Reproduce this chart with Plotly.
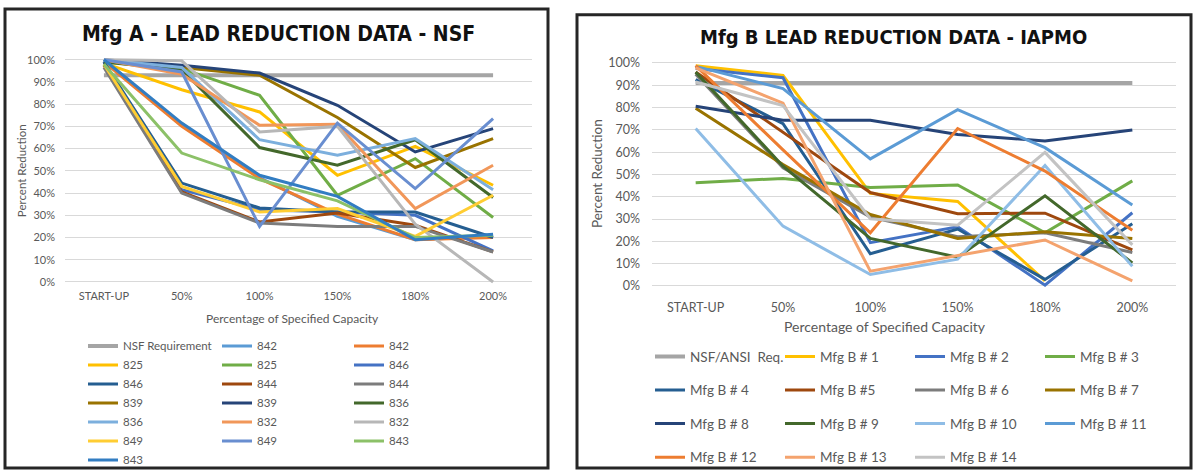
import plotly.graph_objects as go

W, H = 1194, 475

CATS = ["START-UP", "50%", "100%", "150%", "180%", "200%"]

# ---- Mfg A (NSF) ----
A_NAMES = ["NSF Requirement", "842", "842", "825", "825", "846", "846", "844", "844",
           "839", "839", "836", "836", "832", "832", "849", "849", "843", "843"]
A_COLORS = ["#A5A5A5", "#5B9BD5", "#ED7D31", "#FFC000", "#70AD47", "#4472C4", "#255E91",
            "#9E480E", "#7C7C7C", "#997300", "#264478", "#43682B", "#7CAFDD", "#F1975A",
            "#B7B7B7", "#FFCD33", "#698ED0", "#8CC168", "#327DC2"]
A_NSF = [93, 93, 93, 93, 93, 93]
A_842a = [100, 70.5, 47, 29.5, 19, 20.5]
A_842b = [99, 70, 46.5, 30.5, 19, 20]
A_825a = [98.5, 86.5, 76.5, 48, 61, 43.5]
A_825b = [99, 96, 84, 39, 55.5, 29]
A_846a = [99, 41.5, 32.5, 31.5, 30, 14]
A_846b = [99, 44.5, 33.3, 31.5, 31.5, 20]
A_844a = [97.5, 40.5, 27, 31, 25.5, 13.5]
A_844b = [96.5, 40, 26.5, 25, 25, 13.5]
A_839a = [99.5, 96.5, 93, 74, 51.5, 64.5]
A_839b = [100, 97.5, 94, 79.5, 58.5, 69]
A_836a = [99, 95.5, 60.5, 52.5, 64, 38]
A_836b = [100, 96.5, 64, 57, 64.5, 41.5]
A_832a = [100, 93.5, 70.5, 71, 33, 52.5]
A_832b = [100, 99.5, 67.5, 70, 26, 0]
A_849a = [98, 43, 31.5, 33, 20.5, 39]
A_849b = [100, 94.5, 25, 71.5, 42, 73.5]
A_843a = [98, 58, 46, 36.5, 20, 21]
A_843b = [100, 71.5, 48, 38.5, 19, 21.5]
A_VALUES = [A_NSF, A_842a, A_842b, A_825a, A_825b, A_846a, A_846b, A_844a, A_844b,
            A_839a, A_839b, A_836a, A_836b, A_832a, A_832b, A_849a, A_849b, A_843a, A_843b]

# ---- Mfg B (IAPMO) ----
B_NAMES = ["NSF/ANSI  Req.", "Mfg B # 1", "Mfg B # 2", "Mfg B # 3", "Mfg B # 4", "Mfg B #5",
           "Mfg B # 6", "Mfg B # 7", "Mfg B # 8", "Mfg B # 9", "Mfg B # 10", "Mfg B # 11",
           "Mfg B # 12", "Mfg B # 13", "Mfg B # 14"]
B_COLORS = ["#A5A5A5", "#FFC000", "#4472C4", "#70AD47", "#255E91", "#9E480E", "#7C7C7C",
            "#997300", "#264478", "#43682B", "#8FBDE6", "#5B9BD5", "#ED7D31", "#F4A36E",
            "#C3C3C3"]
B_NSF = [91, 91, 91, 91, 91, 91]
B_1 = [98.8, 94.4, 41.5, 37.9, 2.2, None]
B_2 = [97.5, 93.4, 19.4, 26.5, 0.3, 32.8]
B_3 = [46.3, 48.2, 44.1, 45.3, 23.8, 47.1]
B_4 = [92.6, 72.8, 14.4, 25.5, 2.9, 27.9]
B_5 = [96, 69, 41.9, 32.4, 32.6, 16.2]
B_6 = [95, 53, 30.9, 22, 23.8, 15]
B_7 = [79.7, 54.4, 32, 21.3, 24.3, 21.3]
B_8 = [80.6, 74.3, 74.3, 67.9, 65, 69.9]
B_9 = [95.9, 53.7, 21.3, 12.9, 40.4, 10.3]
B_10 = [70.6, 26.8, 5.1, 12, 54, 8.8]
B_11 = [98.5, 88.5, 57, 79.1, 62, 36.3]
B_12 = [98.8, 61, 23.8, 70.6, 51.5, 25]
B_13 = [97.8, 82, 6.6, 13.5, 20.6, 2.2]
B_14 = [91.5, 80.9, 30.1, 27.2, 59.9, 18.4]
B_VALUES = [B_NSF, B_1, B_2, B_3, B_4, B_5, B_6, B_7, B_8, B_9, B_10, B_11, B_12, B_13, B_14]

TICKVALS = [0, 10, 20, 30, 40, 50, 60, 70, 80, 90, 100]
TICKTEXT = ["0%", "10%", "20%", "30%", "40%", "50%", "60%", "70%", "80%", "90%", "100%"]

FONT = "Lato, 'Open Sans', sans-serif"
TXT = "#595959"
GRID = "#D9D9D9"


def px(x):
    return x / W


def py(y):
    return 1 - y / H


fig = go.Figure()

A_LEG = ["legend", "legend2", "legend3"]
for i, (name, col, vals) in enumerate(zip(A_NAMES, A_COLORS, A_VALUES)):
    fig.add_trace(go.Scatter(
        x=CATS, y=vals, name=name, mode="lines",
        line=dict(color=col, width=4 if i == 0 else 3),
        xaxis="x", yaxis="y", legend=A_LEG[i % 3], connectgaps=False,
        hoverinfo="name+y"))

B_LEG = ["legend4", "legend5", "legend6", "legend7"]
for i, (name, col, vals) in enumerate(zip(B_NAMES, B_COLORS, B_VALUES)):
    fig.add_trace(go.Scatter(
        x=CATS, y=vals, name=name, mode="lines",
        line=dict(color=col, width=4 if i == 0 else 3),
        xaxis="x2", yaxis="y2", legend=B_LEG[i % 4], legendgroup="b%d" % i,
        connectgaps=False, hoverinfo="name+y"))

axis_common = dict(showline=False, zeroline=False, ticks="")

fig.update_layout(
    width=W, height=H,
    margin=dict(l=0, r=0, t=0, b=0),
    paper_bgcolor="white", plot_bgcolor="rgba(0,0,0,0)",
    font=dict(family=FONT, color=TXT),
    xaxis=dict(domain=[px(65), px(532)], anchor="y", type="category",
               range=[-0.5, 5.5], showgrid=False, tickfont=dict(size=11, color=TXT),
               ticklabelstandoff=3, **axis_common),
    yaxis=dict(domain=[py(286.1), py(53.3)], anchor="x", range=[-1.5, 101.5],
               tickvals=TICKVALS, ticktext=TICKTEXT, showgrid=True, gridcolor=GRID,
               gridwidth=1, tickfont=dict(size=11, color=TXT), ticklabelstandoff=9,
               **axis_common),
    xaxis2=dict(domain=[px(652), px(1176)], anchor="y2", type="category",
                range=[-0.5, 5.5], showgrid=False, tickfont=dict(size=12.5, color=TXT),
                ticklabelstandoff=9, **axis_common),
    yaxis2=dict(domain=[py(290.1), py(56.6)], anchor="x2", range=[-1.5, 101.5],
                tickvals=TICKVALS, ticktext=TICKTEXT, showgrid=True, gridcolor=GRID,
                gridwidth=1, tickfont=dict(size=12.5, color=TXT), ticklabelstandoff=11,
                **axis_common),
    showlegend=True,
)

a_cols_x = [83, 217, 349]
for name, xx in zip(A_LEG, a_cols_x):
    fig.update_layout({name: dict(
        x=px(xx), y=py(333), xanchor="left", yanchor="top", orientation="v",
        bgcolor="rgba(0,0,0,0)", borderwidth=0,
        font=dict(family=FONT, size=11.5, color=TXT), tracegroupgap=0)})

b_cols_x = [650, 780, 910, 1040]
for name, xx in zip(B_LEG, b_cols_x):
    fig.update_layout({name: dict(
        x=px(xx), y=py(343), xanchor="left", yanchor="top", orientation="v",
        bgcolor="rgba(0,0,0,0)", borderwidth=0, traceorder="grouped",
        font=dict(family=FONT, size=13.5, color=TXT), tracegroupgap=13)})

fig.add_shape(type="rect", xref="paper", yref="paper",
              x0=px(5), y0=py(472), x1=px(548), y1=py(5),
              line=dict(color="#262626", width=3), fillcolor="rgba(0,0,0,0)", layer="above")
fig.add_shape(type="rect", xref="paper", yref="paper",
              x0=px(577), y0=py(472), x1=px(1191), y1=py(11),
              line=dict(color="#262626", width=3), fillcolor="rgba(0,0,0,0)", layer="above")

TFAM = "'DejaVu Sans Condensed', 'Liberation Sans Narrow', sans-serif"

ann = [
    dict(text="Mfg A - LEAD REDUCTION DATA - NSF", x=px(278), y=py(31),
         font=dict(family=TFAM, size=21, color="#111111", weight=700)),
    dict(text="Mfg B LEAD REDUCTION DATA - IAPMO", x=px(893), y=py(34),
         font=dict(family=TFAM, size=20, color="#111111", weight=700)),
    dict(text="Percent Reduction", x=px(21), y=py(170), textangle=-90,
         font=dict(family=FONT, size=11.5, color=TXT)),
    dict(text="Percent Reduction", x=px(597), y=py(173), textangle=-90,
         font=dict(family=FONT, size=13.5, color=TXT)),
    dict(text="Percentage of Specified Capacity", x=px(292), y=py(320),
         font=dict(family=FONT, size=12, color=TXT)),
    dict(text="Percentage of Specified Capacity", x=px(885), y=py(328),
         font=dict(family=FONT, size=14, color=TXT)),
]
for a in ann:
    a.update(xref="paper", yref="paper", showarrow=False, xanchor="center", yanchor="middle")
    fig.add_annotation(**a)

fig.write_html("out.html", config={"displayModeBar": False},
               post_script="document.body.style.margin='0';document.body.style.overflow='hidden';")
